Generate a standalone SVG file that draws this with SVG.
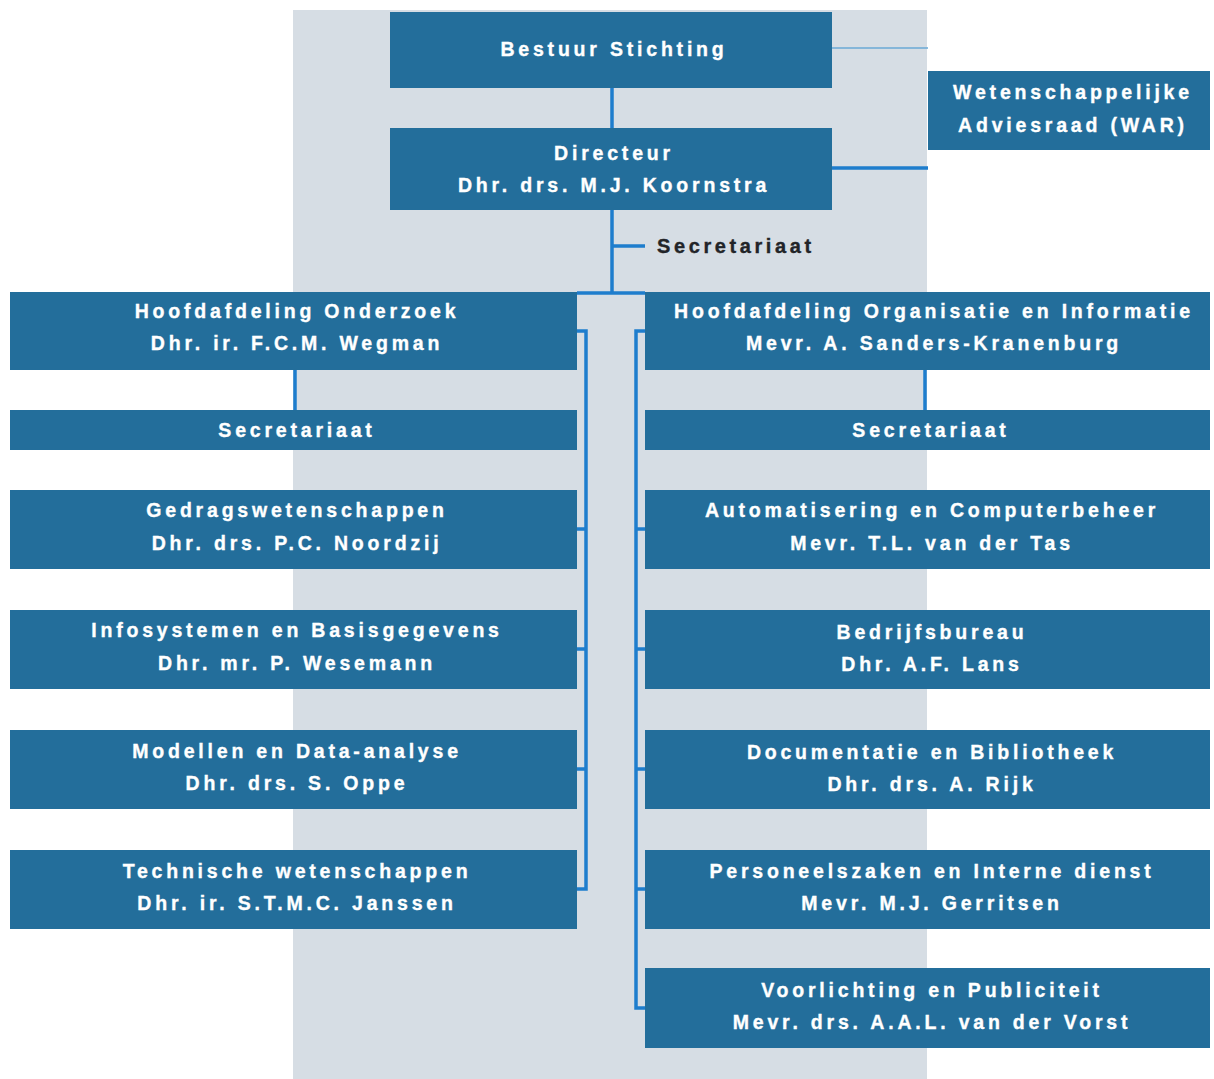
<svg xmlns="http://www.w3.org/2000/svg" width="1214" height="1079" viewBox="0 0 1214 1079">
<style>
.bg{fill:#ffffff}
.panel{fill:#d6dde4}
.box{fill:#236e9b}
.t{font-family:"Liberation Sans",Arial,sans-serif;font-weight:bold;font-size:19.5px;letter-spacing:3.8px;fill:#ffffff;stroke:#ffffff;stroke-width:0.35px;text-anchor:middle}
.dark{fill:#222428;stroke:#222428;text-anchor:start;font-size:20px;letter-spacing:3.6px}
.c{stroke:#1e7dcd;stroke-width:3.5;fill:none}
.thin{stroke:#6aa9d6;stroke-width:1.5;fill:none}
</style>
<rect class="bg" x="0" y="0" width="1214" height="1079"/>
<rect class="panel" x="293" y="10" width="634" height="1069"/>

<g id="connectors">
<line class="thin" x1="832" y1="48" x2="928" y2="48"/>
<line class="c" x1="612" y1="88" x2="612" y2="128"/>
<line class="c" x1="830" y1="168" x2="928" y2="168"/>
<line class="c" x1="612" y1="210" x2="612" y2="293"/>
<line class="c" x1="612" y1="246" x2="645" y2="246"/>
<line class="c" x1="577" y1="293" x2="645" y2="293"/>
<path class="c" d="M577 331 H586 V889 H577"/>
<path class="c" d="M577 529 H586 M577 649 H586 M577 769 H586"/>
<path class="c" d="M645 331 H636 V1008 H645"/>
<path class="c" d="M636 529 H645 M636 649 H645 M636 769 H645 M636 889 H645"/>
<line class="c" x1="295" y1="370" x2="295" y2="410"/>
<line class="c" x1="925" y1="370" x2="925" y2="410"/>
</g>

<g id="bestuur"><rect class="box" x="390" y="12" width="442" height="76"/><text class="t" x="614" y="56">Bestuur Stichting</text></g>
<g id="war"><rect class="box" x="928" y="71" width="282" height="79"/><text class="t" x="1073" y="99">Wetenschappelijke</text><text class="t" x="1073" y="132">Adviesraad (WAR)</text></g>
<g id="directeur"><rect class="box" x="390" y="128" width="442" height="82"/><text class="t" x="614" y="160">Directeur</text><text class="t" x="614" y="192">Dhr. drs. M.J. Koornstra</text></g>
<g id="secretariaat-dir"><text class="t dark" x="657" y="253">Secretariaat</text></g>

<g id="hoofd-onderzoek"><rect class="box" x="10" y="292" width="567" height="78"/><text class="t" x="297" y="318">Hoofdafdeling Onderzoek</text><text class="t" x="297" y="350">Dhr. ir. F.C.M. Wegman</text></g>
<g id="secr-onderzoek"><rect class="box" x="10" y="410" width="567" height="40"/><text class="t" x="297" y="437">Secretariaat</text></g>
<g id="gedrag"><rect class="box" x="10" y="490" width="567" height="79"/><text class="t" x="297" y="517">Gedragswetenschappen</text><text class="t" x="297" y="550">Dhr. drs. P.C. Noordzij</text></g>
<g id="infosys"><rect class="box" x="10" y="610" width="567" height="79"/><text class="t" x="297" y="637">Infosystemen en Basisgegevens</text><text class="t" x="297" y="670">Dhr. mr. P. Wesemann</text></g>
<g id="modellen"><rect class="box" x="10" y="730" width="567" height="79"/><text class="t" x="297" y="758">Modellen en Data-analyse</text><text class="t" x="297" y="790">Dhr. drs. S. Oppe</text></g>
<g id="technisch"><rect class="box" x="10" y="850" width="567" height="79"/><text class="t" x="297" y="878">Technische wetenschappen</text><text class="t" x="297" y="910">Dhr. ir. S.T.M.C. Janssen</text></g>

<g id="hoofd-org"><rect class="box" x="645" y="292" width="565" height="78"/><text class="t" x="934" y="318">Hoofdafdeling Organisatie en Informatie</text><text class="t" x="934" y="350">Mevr. A. Sanders-Kranenburg</text></g>
<g id="secr-org"><rect class="box" x="645" y="410" width="565" height="40"/><text class="t" x="931" y="437">Secretariaat</text></g>
<g id="automatisering"><rect class="box" x="645" y="490" width="565" height="79"/><text class="t" x="932" y="517">Automatisering en Computerbeheer</text><text class="t" x="932" y="550">Mevr. T.L. van der Tas</text></g>
<g id="bedrijfsbureau"><rect class="box" x="645" y="610" width="565" height="79"/><text class="t" x="932" y="639">Bedrijfsbureau</text><text class="t" x="932" y="671">Dhr. A.F. Lans</text></g>
<g id="documentatie"><rect class="box" x="645" y="730" width="565" height="79"/><text class="t" x="932" y="759">Documentatie en Bibliotheek</text><text class="t" x="932" y="791">Dhr. drs. A. Rijk</text></g>
<g id="personeel"><rect class="box" x="645" y="850" width="565" height="79"/><text class="t" x="932" y="878">Personeelszaken en Interne dienst</text><text class="t" x="932" y="910">Mevr. M.J. Gerritsen</text></g>
<g id="voorlichting"><rect class="box" x="645" y="968" width="565" height="80"/><text class="t" x="932" y="997">Voorlichting en Publiciteit</text><text class="t" x="932" y="1029">Mevr. drs. A.A.L. van der Vorst</text></g>
</svg>
